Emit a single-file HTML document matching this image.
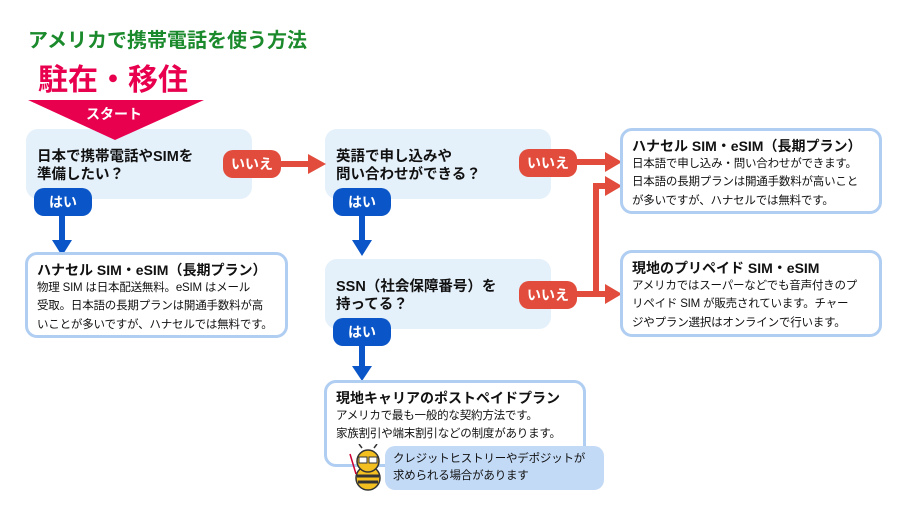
<!DOCTYPE html>
<html><head><meta charset="utf-8"><style>
body{margin:0;width:908px;height:521px;background:#fff;position:relative;overflow:hidden;font-family:"Liberation Sans","Noto Sans CJK JP",sans-serif;color:#111}
.a{position:absolute;white-space:nowrap}
.q{position:absolute;background:#e4f0fa;border-radius:12px}
.qt{position:absolute;font-weight:bold;font-size:14.5px;line-height:18px}
.r{position:absolute;background:#fff;border:3px solid #b0cdf2;border-radius:12px;box-sizing:border-box}
.rt{font-weight:bold;font-size:14px;line-height:18px;margin:6px 0 0 9px;white-space:nowrap}
.rb{font-size:11.5px;line-height:18.3px;margin:0 0 0 9px;white-space:nowrap;letter-spacing:-0.2px}
.p{position:absolute;border-radius:10px;color:#fff;font-weight:bold;font-size:14px;text-align:center;line-height:28px}
.y{background:#0a55c8}.n{background:#e24c3c}
</style></head><body>
<div class="a" style="left:28px;top:24px;font-size:20px;font-weight:bold;color:#1b8a2c">アメリカで携帯電話を使う方法</div>
<div class="a" style="left:38px;top:55px;font-size:30px;font-weight:bold;color:#e8004f">駐在・移住</div>
<div class="q" style="left:26px;top:129px;width:226px;height:70px"></div>
<div class="q" style="left:325px;top:129px;width:226px;height:70px"></div>
<div class="q" style="left:325px;top:259px;width:226px;height:70px"></div>
<svg class="a" style="left:0;top:0" width="908" height="521">
<polygon points="28,100 204,100 115,140" fill="#e8004f"/>
<g fill="#0a55c8"><rect x="59" y="214" width="6" height="28"/><polygon points="52,240 72,240 62,256"/>
<rect x="359" y="214" width="6" height="28"/><polygon points="352,240 372,240 362,256"/>
<rect x="359" y="344" width="6" height="24"/><polygon points="352,366 372,366 362,381"/></g>
<g fill="#e24c3c"><rect x="278" y="161" width="32" height="6"/><polygon points="308,154 326,164 308,174"/>
<rect x="575" y="159" width="32" height="6"/><polygon points="605,152 622,162 605,172"/>
<rect x="575" y="291" width="32" height="6"/><polygon points="605,284 622,294 605,304"/>
<rect x="593" y="184" width="6" height="113"/><rect x="593" y="183" width="14" height="6"/><polygon points="605,176 622,186 605,196"/></g>
</svg>
<div class="a" style="left:86px;top:104px;color:#fff;font-weight:bold;font-size:14px">スタート</div>
<div class="qt" style="left:37px;top:148px">日本で携帯電話やSIMを<br>準備したい？</div>
<div class="qt" style="left:336px;top:148px">英語で申し込みや<br>問い合わせができる？</div>
<div class="qt" style="left:336px;top:278px">SSN（社会保障番号）を<br>持ってる？</div>
<div class="p y" style="left:34px;top:188px;width:58px">はい</div>
<div class="p y" style="left:333px;top:188px;width:58px">はい</div>
<div class="p y" style="left:333px;top:318px;width:58px">はい</div>
<div class="p n" style="left:223px;top:150px;width:58px">いいえ</div>
<div class="p n" style="left:519px;top:149px;width:58px">いいえ</div>
<div class="p n" style="left:519px;top:281px;width:58px">いいえ</div>
<div class="r" style="left:620px;top:128px;width:262px;height:86px"><div class="rt">ハナセル SIM・eSIM（長期プラン）</div><div class="rb">日本語で申し込み・問い合わせができます。<br>日本語の長期プランは開通手数料が高いこと<br>が多いですが、ハナセルでは無料です。</div></div>
<div class="r" style="left:620px;top:250px;width:262px;height:87px"><div class="rt">現地のプリペイド SIM・eSIM</div><div class="rb">アメリカではスーパーなどでも音声付きのプ<br>リペイド SIM が販売されています。チャー<br>ジやプラン選択はオンラインで行います。</div></div>
<div class="r" style="left:25px;top:252px;width:263px;height:86px"><div class="rt">ハナセル SIM・eSIM（長期プラン）</div><div class="rb">物理 SIM は日本配送無料。eSIM はメール<br>受取。日本語の長期プランは開通手数料が高<br>いことが多いですが、ハナセルでは無料です。</div></div>
<div class="r" style="left:324px;top:380px;width:262px;height:87px"><div class="rt">現地キャリアのポストペイドプラン</div><div class="rb">アメリカで最も一般的な契約方法です。<br>家族割引や端末割引などの制度があります。</div></div>
<div class="a" style="left:385px;top:446px;width:219px;height:44px;background:#c3daf6;border-radius:10px"></div>
<div class="a" style="left:393px;top:451px;font-size:11.5px;line-height:17px;letter-spacing:-0.2px">クレジットヒストリーやデポジットが<br>求められる場合があります</div>
<svg class="a" style="left:348px;top:444px" width="40" height="48">
<ellipse cx="20" cy="34" rx="12" ry="12" fill="#f4c020" stroke="#333" stroke-width="1.5"/>
<path d="M9 32h22M10 38h20" stroke="#333" stroke-width="3"/>
<circle cx="20" cy="17" r="11" fill="#f4c020" stroke="#333" stroke-width="1.5"/>
<rect x="11" y="13" width="8" height="6" fill="#fff" stroke="#333"/><rect x="21" y="13" width="8" height="6" fill="#fff" stroke="#333"/>
<path d="M14 4l-3-4M26 4l3-4" stroke="#333" stroke-width="1.5"/>
<line x1="2" y1="10" x2="8" y2="30" stroke="#c03" stroke-width="1.5"/>
</svg>
</body></html>
